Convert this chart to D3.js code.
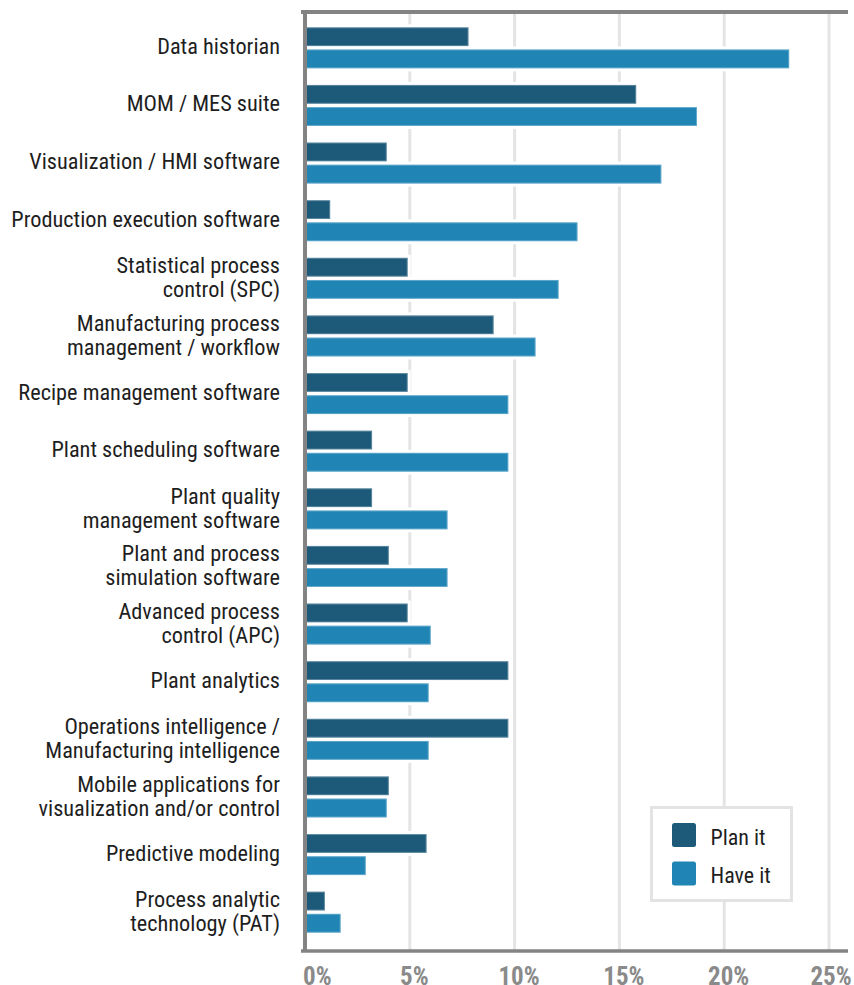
<!DOCTYPE html>
<html>
<head>
<meta charset="utf-8">
<script src="https://cdn.jsdelivr.net/npm/d3@7"></script>
<style>
  html, body { margin: 0; padding: 0; background: #fff; overflow: hidden; }
  svg { display: block; }
  .lbl { font-family: "Liberation Sans Narrow", "Arial Narrow", "Roboto Condensed", "DejaVu Sans Condensed", sans-serif; }
</style>
</head>
<body>
<svg id="chart" width="854" height="985"></svg>
<script>
const categories = [
  "Data historian",
  "MOM / MES suite",
  "Visualization / HMI software",
  "Production execution software",
  "Statistical process\ncontrol (SPC)",
  "Manufacturing process\nmanagement / workflow",
  "Recipe management software",
  "Plant scheduling software",
  "Plant quality\nmanagement software",
  "Plant and process\nsimulation software",
  "Advanced process\ncontrol (APC)",
  "Plant analytics",
  "Operations intelligence /\nManufacturing intelligence",
  "Mobile applications for\nvisualization and/or control",
  "Predictive modeling",
  "Process analytic\ntechnology (PAT)"
];
const planIt = [7.8, 15.8, 3.9, 1.2, 4.9, 9.0, 4.9, 3.2, 3.2, 4.0, 4.9, 9.7, 9.7, 4.0, 5.8, 0.95];
const haveIt = [23.1, 18.7, 17.0, 13.0, 12.1, 11.0, 9.7, 9.7, 6.8, 6.8, 6.0, 5.9, 5.9, 3.9, 2.9, 1.7];
const seriesNames = ["Plan it", "Have it"];
const seriesColors = ["#1d5a7a", "#2085b5"];
const tickValues = [0, 5, 10, 15, 20, 25];
const tickLabels = ["0%", "5%", "10%", "15%", "20%", "25%"];

const svg = d3.select("#chart");
const x = d3.scaleLinear().domain([0, 25]).range([305, 829]);
const y = d3.scaleBand().domain(categories).range([19, 941]).paddingInner(0).paddingOuter(0);
const inner = d3.scaleBand().domain(seriesNames).range([-20.5, 20.5]).paddingInner(0.149).paddingOuter(0);
const color = d3.scaleOrdinal().domain(seriesNames).range(seriesColors);

const rows = categories.map((c, i) => ({ cat: c, vals: [
  { s: seriesNames[0], v: planIt[i] },
  { s: seriesNames[1], v: haveIt[i] }
]}));

// gridlines
svg.append("g").selectAll("line")
  .data(tickValues.filter(v => v > 0))
  .join("line")
  .attr("x1", d => x(d)).attr("x2", d => x(d))
  .attr("y1", 12).attr("y2", 950)
  .attr("stroke", "#e4e4e4").attr("stroke-width", 3);

// bars
const g = svg.append("g").selectAll("g")
  .data(rows).join("g")
  .attr("transform", d => `translate(0,${y(d.cat) + y.bandwidth() / 2})`);
g.selectAll("rect")
  .data(d => d.vals).join("rect")
  .attr("x", x(0))
  .attr("y", d => inner(d.s))
  .attr("width", d => x(d.v) - x(0))
  .attr("height", inner.bandwidth())
  .attr("fill", d => color(d.s))
  .attr("stroke", "#fff").attr("stroke-width", 6)
  .style("paint-order", "stroke");
g.selectAll("rect.edge")
  .data(d => d.vals).join("rect")
  .attr("class", "edge")
  .attr("x", x(0) + 0.5)
  .attr("y", d => inner(d.s) + 0.5)
  .attr("width", d => x(d.v) - x(0) - 1)
  .attr("height", inner.bandwidth() - 1)
  .attr("fill", "none")
  .attr("stroke", "rgba(255,255,255,0.28)").attr("stroke-width", 1);

// category labels
const lbl = svg.append("g").selectAll("text")
  .data(categories).join("text")
  .attr("class", "lbl")
  .attr("text-anchor", "end")
  .attr("x", 280)
  .attr("font-size", 22.3)
  .attr("fill", "#1e1e1e");
lbl.each(function (c) {
  const lines = c.split("\n");
  const cy = y(c) + y.bandwidth() / 2;
  const off = lines.length > 1 ? 7 : 6;
  d3.select(this).selectAll("tspan").data(lines).join("tspan")
    .attr("x", 280)
    .attr("y", (l, i) => cy + off + (i - (lines.length - 1) / 2) * 24)
    .text(l => l);
});

// frame / axes
svg.append("line").attr("x1", 301).attr("x2", 848).attr("y1", 12).attr("y2", 12)
  .attr("stroke", "#838383").attr("stroke-width", 4);
svg.append("line").attr("x1", 305).attr("x2", 305).attr("y1", 10).attr("y2", 952)
  .attr("stroke", "#838383").attr("stroke-width", 4);
svg.append("line").attr("x1", 301).attr("x2", 848).attr("y1", 951).attr("y2", 951)
  .attr("stroke", "#838383").attr("stroke-width", 3.5);

// tick labels
svg.append("g").selectAll("text")
  .data(tickValues).join("text")
  .attr("class", "lbl")
  .attr("x", (d, i) => i === 0 ? x(d) - 2 : x(d) + (i === tickValues.length - 1 ? 2 : 4.5))
  .attr("y", 985)
  .attr("text-anchor", (d, i) => i === 0 ? "start" : "middle")
  .attr("font-size", 25)
  .attr("font-weight", "bold")
  .attr("fill", "#8a8a8a")
  .text((d, i) => tickLabels[i]);

// legend
const leg = svg.append("g");
leg.append("rect").attr("x", 651.5).attr("y", 807.5).attr("width", 140).attr("height", 93)
  .attr("fill", "#fff").attr("stroke", "#e3e3e3").attr("stroke-width", 3);
const li = leg.selectAll("g").data(seriesNames).join("g")
  .attr("transform", (d, i) => `translate(672,${823 + i * 38.5})`);
li.append("rect").attr("width", 24).attr("height", 24).attr("rx", 2.5)
  .attr("fill", d => color(d));
li.append("text").attr("class", "lbl").attr("x", 38.5).attr("y", 21.5)
  .attr("font-size", 22).attr("fill", "#1e1e1e").text(d => d);
</script>
</body>
</html>
